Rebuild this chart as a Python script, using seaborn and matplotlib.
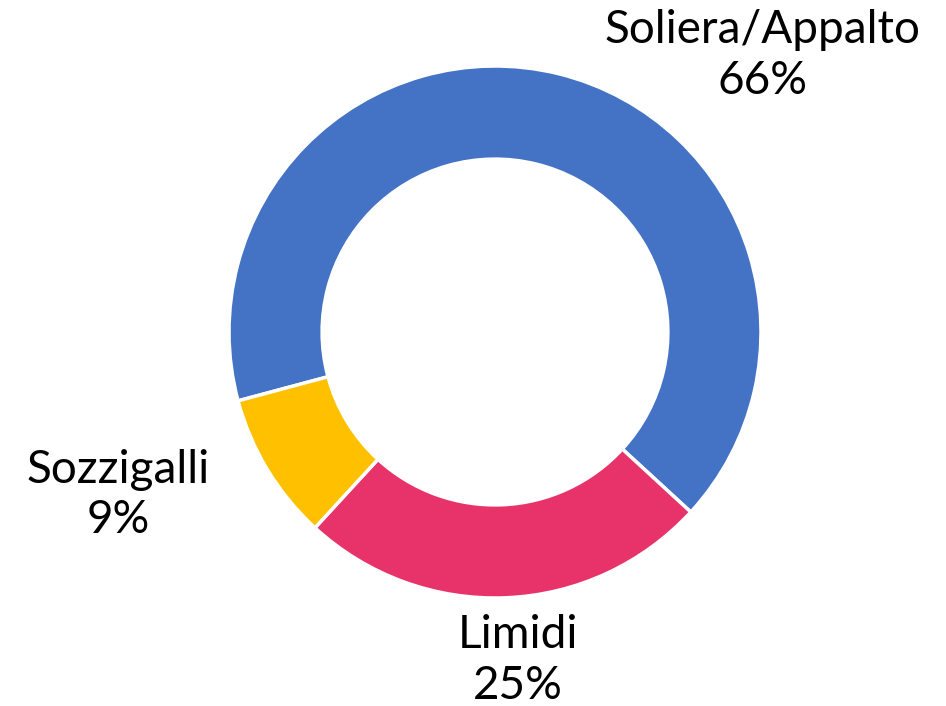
import numpy as np
import pandas as pd
import seaborn as sns
import matplotlib.pyplot as plt

# dati della torta
categories = ["Soliera/Appalto", "Limidi", "Sozzigalli"]
shares = [66, 25, 9]
slice_colors = ["#4472C4", "#E8336A", "#FFC000"]

sns.set_theme(style="white")
plt.rcParams['font.family'] = ['Lato', 'DejaVu Sans']

df = pd.DataFrame({'zona': categories, 'quota': shares})

fig = plt.figure(figsize=(9.46, 7.06), dpi=100)
# ring centre ~ (495, 332) px, outer radius ~266 px
ax = fig.add_axes([229 / 946, 108 / 706, 532 / 946, 532 / 706])

pal = sns.color_palette(slice_colors)
wedges, _ = ax.pie(df['quota'], colors=pal, startangle=195, counterclock=False,
                   radius=1, wedgeprops=dict(width=0.35, edgecolor='white', linewidth=2.5))
ax.set_xlim(-1, 1)
ax.set_ylim(-1, 1)
ax.set_aspect('equal')
ax.axis('off')

# label positions (data coords, relative to the ring)
label_pos = [(1.004, 1.04), (0.086, -1.235), (-1.417, -0.613)]
for name, val, (x, y) in zip(df['zona'], df['quota'], label_pos):
    ax.text(x, y, f"{name}\n{val}%", ha='center', va='center', fontsize=33,
            color='black', linespacing=1.25, clip_on=False)

fig.savefig("out.png", dpi=100)
